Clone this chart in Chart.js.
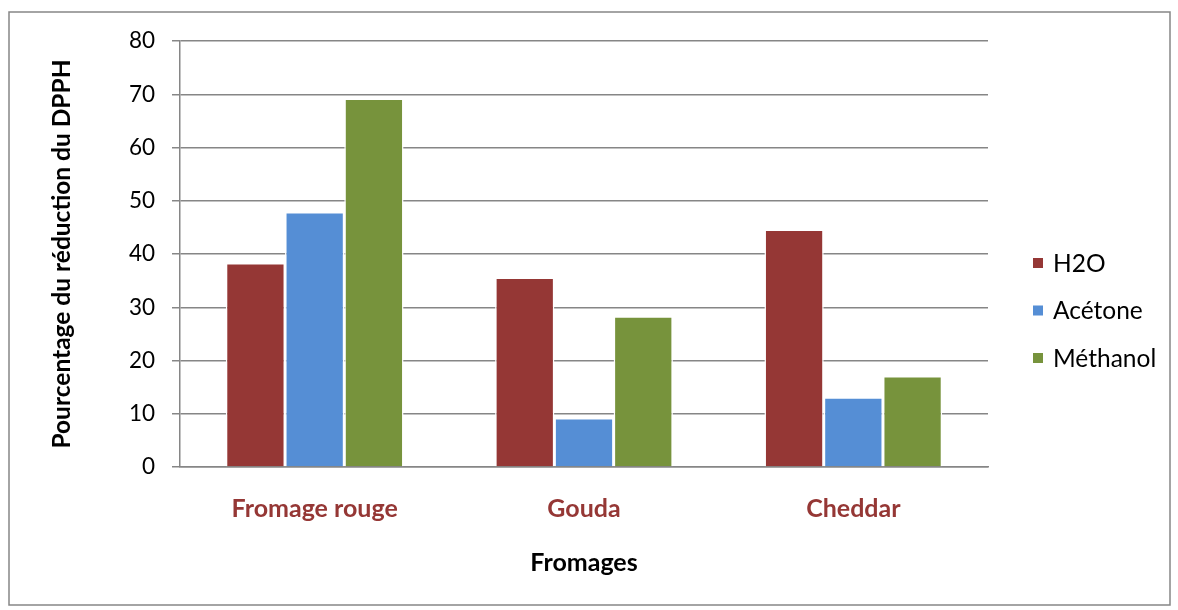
<!DOCTYPE html>
<html>
<head>
<meta charset="utf-8">
<script src="https://cdn.jsdelivr.net/npm/chart.js@4.4.1/dist/chart.umd.min.js"></script>
<style>
    html, body { margin: 0; padding: 0; background: #fff; }
    #wrap { width: 1178px; height: 610px; }
</style>
</head>
<body>
<div id="wrap"><canvas id="chart" width="1178" height="610"></canvas></div>
<script>
var categories = ['Fromage rouge', 'Gouda', 'Cheddar'];
var seriesNames = ['H2O', 'Acétone', 'Méthanol'];
var h2o = [38.3, 35.6, 44.6];
var acetone = [47.9, 9.2, 13.1];
var methanol = [69.2, 28.3, 17.1];
var yTicks = [0, 10, 20, 30, 40, 50, 60, 70, 80];
var colors = ['#953735', '#558ED5', '#77933C'];

var fontFamily = 'Lato, "Open Sans", sans-serif';

// frame around the whole chart
var framePlugin = {
    id: 'frame',
    beforeDraw: function (chart) {
        var ctx = chart.ctx;
        ctx.save();
        ctx.fillStyle = '#fff';
        ctx.fillRect(0, 0, chart.width, chart.height);
        ctx.strokeStyle = '#868686';
        ctx.lineWidth = 1.5;
        ctx.strokeRect(9, 12, 1161, 593);
        ctx.restore();
    }
};

// legend on the right, drawn from the datasets
var legendPlugin = {
    id: 'sideLegend',
    afterDraw: function (chart) {
        var ctx = chart.ctx;
        ctx.save();
        ctx.font = '24.5px ' + fontFamily;
        ctx.textBaseline = 'middle';
        chart.data.datasets.forEach(function (ds, i) {
            var y = 263 + i * 47.5;
            ctx.fillStyle = ds.backgroundColor;
            ctx.fillRect(1033, y - 5, 10, 10);
            ctx.fillStyle = '#000';
            ctx.fillText(ds.label, 1053, y + 1);
        });
        ctx.restore();
    }
};

var ctx = document.getElementById('chart').getContext('2d');
var chart = new Chart(ctx, {
    type: 'bar',
    data: {
        labels: categories,
        datasets: [
            { label: seriesNames[0], data: h2o, backgroundColor: colors[0] },
            { label: seriesNames[1], data: acetone, backgroundColor: colors[1] },
            { label: seriesNames[2], data: methanol, backgroundColor: colors[2] }
        ].map(function (d) {
            d.borderColor = '#fff';
            d.borderWidth = 1.5;
            d.categoryPercentage = 0.66;
            d.barPercentage = 1.0;
            return d;
        })
    },
    options: {
        responsive: false,
        animation: false,
        layout: { padding: { top: 41, left: 9, right: 190, bottom: 5 } },
        plugins: {
            legend: { display: false },
            tooltip: { enabled: false }
        },
        scales: {
            x: {
                grid: { display: false, drawTicks: false },
                border: { display: true, color: '#868686', width: 1.5 },
                ticks: {
                    color: '#953735',
                    font: { family: fontFamily, size: 25, weight: 'bold', lineHeight: 1.2 },
                    padding: 27
                },
                title: {
                    display: true,
                    text: 'Fromages',
                    color: '#000',
                    font: { family: fontFamily, size: 25, weight: 'bold', lineHeight: 1.2 },
                    padding: { top: 0, bottom: 27 }
                },
                afterFit: function (scale) { scale.height = 138; }
            },
            y: {
                min: 0,
                max: 80,
                afterBuildTicks: function (scale) {
                    scale.ticks = yTicks.map(function (v) { return { value: v }; });
                },
                grid: { color: '#868686', lineWidth: 1.5, tickLength: 8 },
                border: { display: true, color: '#868686', width: 1.5 },
                ticks: {
                    color: '#000',
                    font: { family: fontFamily, size: 22.5, lineHeight: 1.2 },
                    padding: 17
                },
                title: {
                    display: true,
                    text: 'Pourcentage du réduction du DPPH',
                    color: '#000',
                    font: { family: fontFamily, size: 24.5, weight: 'bold', lineHeight: 1.2 },
                    padding: { top: 38, bottom: 0 }
                },
                afterFit: function (scale) { scale.width = 171; }
            }
        }
    },
    plugins: [framePlugin, legendPlugin]
});
</script>
</body>
</html>
